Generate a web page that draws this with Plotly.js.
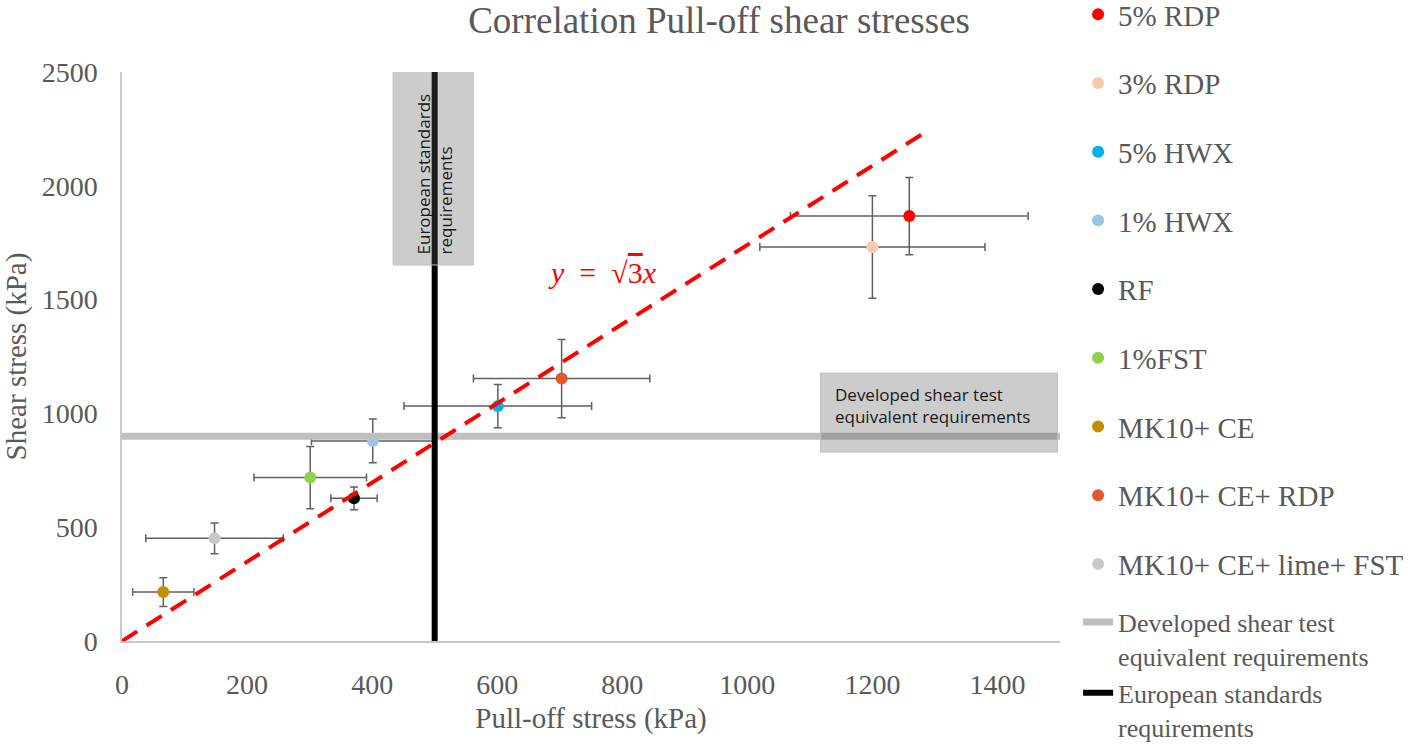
<!DOCTYPE html>
<html>
<head>
<meta charset="utf-8">
<script src="https://cdn.plot.ly/plotly-3.0.1.min.js"></script>
<style>html,body{margin:0;padding:0;background:#fff;}#chart{width:1408px;height:747px;}</style>
</head>
<body>
<div id="chart"></div>
<script>
// ---- data ----
const seriesNames = ["5% RDP", "3% RDP", "5% HWX", "1% HWX", "RF", "1%FST", "MK10+ CE", "MK10+ CE+ RDP", "MK10+ CE+ lime+ FST"];
const pullOff     = [1259, 1200, 601, 401, 371, 301, 66, 703, 148];
const shear       = [1867, 1731, 1032, 879, 627, 718, 215, 1153, 451];
const pullOffErr  = [190, 180, 150, 98, 37, 90, 49, 141, 110];
const shearErr    = [170, 225, 95, 96, 50, 137, 63, 172, 68];
const seriesColors = ["#FF0000", "#F8CBAD", "#00B0F0", "#9DC3E6", "#000000", "#92D050", "#BF9000", "#E2572B", "#C9C9C9"];

const shearReqName = "Developed shear test<br>equivalent requirements";
const shearReqX = [0, 1500];
const shearReqY = [900, 900];

const euroReqName = "European standards<br>requirements";
const euroReqX = [500, 500];
const euroReqY = [0, 2500];

const eqLineX = [0, 1290];
const eqLineY = [0, 2245];

const xTicks = [0, 200, 400, 600, 800, 1000, 1200, 1400];
const yTicks = [0, 500, 1000, 1500, 2000, 2500];

const serif = "Liberation Serif, Times New Roman, serif";
const txtGray = "#595959";

const traces = [];
for (let i = 0; i < seriesNames.length; i++) {
  traces.push({
    type: "scatter", mode: "markers",
    name: seriesNames[i], legendgroup: "g" + i, legend: "legend",
    x: [pullOff[i]], y: [shear[i]],
    marker: {color: seriesColors[i], size: 12},
    error_x: {type: "data", array: [pullOffErr[i]], visible: true, color: "#606060", thickness: 1.5, width: 4},
    error_y: {type: "data", array: [shearErr[i]], visible: true, color: "#606060", thickness: 1.5, width: 4},
    cliponaxis: false
  });
}
traces.push({
  type: "scatter", mode: "lines", name: shearReqName, legend: "legend2", legendgroup: "h1",
  x: shearReqX, y: shearReqY, line: {color: "#BFBFBF", width: 7}
});
traces.push({
  type: "scatter", mode: "lines", name: euroReqName, legend: "legend2", legendgroup: "h2",
  x: euroReqX, y: euroReqY, line: {color: "#000000", width: 6}
});
traces.push({
  type: "scatter", mode: "lines", showlegend: false,
  x: eqLineX, y: eqLineY, line: {color: "#FF0000", width: 4, dash: "18px,11px"}
});

const layout = {
  width: 1408, height: 747,
  paper_bgcolor: "#ffffff", plot_bgcolor: "#ffffff",
  margin: {l: 122, r: 348, t: 72, b: 106, autoexpand: false},
  showlegend: true,
  title: {
    text: "Correlation Pull-off shear stresses",
    font: {family: serif, size: 37, color: txtGray},
    x: 0.5107, xref: "container", xanchor: "center",
    y: 0.973, yref: "container", yanchor: "middle"
  },
  xaxis: {
    range: [0, 1500], tickvals: xTicks, ticktext: xTicks.map(String),
    showgrid: false, zeroline: false, showline: true, linecolor: "#C8C8C8", linewidth: 1.5,
    ticks: "", ticklabelstandoff: 18,
    tickfont: {family: serif, size: 28, color: txtGray},
    title: {text: "Pull-off stress (kPa)", font: {family: serif, size: 29, color: txtGray}, standoff: 8}
  },
  yaxis: {
    range: [0, 2500], tickvals: yTicks, ticktext: yTicks.map(String),
    showgrid: false, zeroline: false, showline: true, linecolor: "#C8C8C8", linewidth: 1.5,
    ticks: "", ticklabelstandoff: 17,
    tickfont: {family: serif, size: 28, color: txtGray},
    title: {text: "Shear stress (kPa)", font: {family: serif, size: 29, color: txtGray}, standoff: 10}
  },
  legend: {
    x: 1.0193, xanchor: "left", y: 1.146, yanchor: "top", maxheight: 1,
    font: {family: serif, size: 29, color: txtGray},
    tracegroupgap: 28, bgcolor: "rgba(0,0,0,0)", borderwidth: 0, itemclick: false, itemdoubleclick: false
  },
  legend2: {
    x: 1.0193, xanchor: "left", y: 0.0743, yanchor: "top", maxheight: 1,
    font: {family: serif, size: 26, color: txtGray}, valign: "top",
    tracegroupgap: 0, bgcolor: "rgba(0,0,0,0)", borderwidth: 0, itemclick: false, itemdoubleclick: false
  },
  shapes: [
    {type: "rect", layer: "above", xref: "x", yref: "y", x0: 433.6, x1: 561.6, y0: 1652, y1: 2509,
     fillcolor: "rgba(90,90,90,0.31)", line: {color: "#BFBFBF", width: 1}},
    {type: "rect", layer: "above", xref: "x", yref: "y", x0: 1117, x1: 1496, y0: 830, y1: 1177,
     fillcolor: "rgba(90,90,90,0.31)", line: {color: "#BFBFBF", width: 1}}
  ],
  annotations: [
    {xref: "x", yref: "y", x: 499, y: 2050, text: "European standards<br>requirements",
     textangle: -90, showarrow: false, align: "left", xanchor: "center", yanchor: "middle",
     font: {family: "Open Sans, sans-serif", size: 17, color: "#1a1a1a"}},
    {xref: "x", yref: "y", x: 1137.6, y: 1035, text: "Developed shear test<br>equivalent requirements",
     showarrow: false, align: "left", xanchor: "left", yanchor: "middle",
     font: {family: "Open Sans, sans-serif", size: 17, color: "#1a1a1a"}},
    {xref: "x", yref: "y", x: 768, y: 1621,
     text: "<i>y</i>\u2002=\u2002√<span style='text-decoration:overline'>3</span><i>x</i>",
     showarrow: false, xanchor: "center", yanchor: "middle",
     font: {family: serif, size: 30, color: "#FF0000"}}
  ]
};

Plotly.newPlot("chart", traces, layout, {displayModeBar: false, responsive: false});
</script>
</body>
</html>
